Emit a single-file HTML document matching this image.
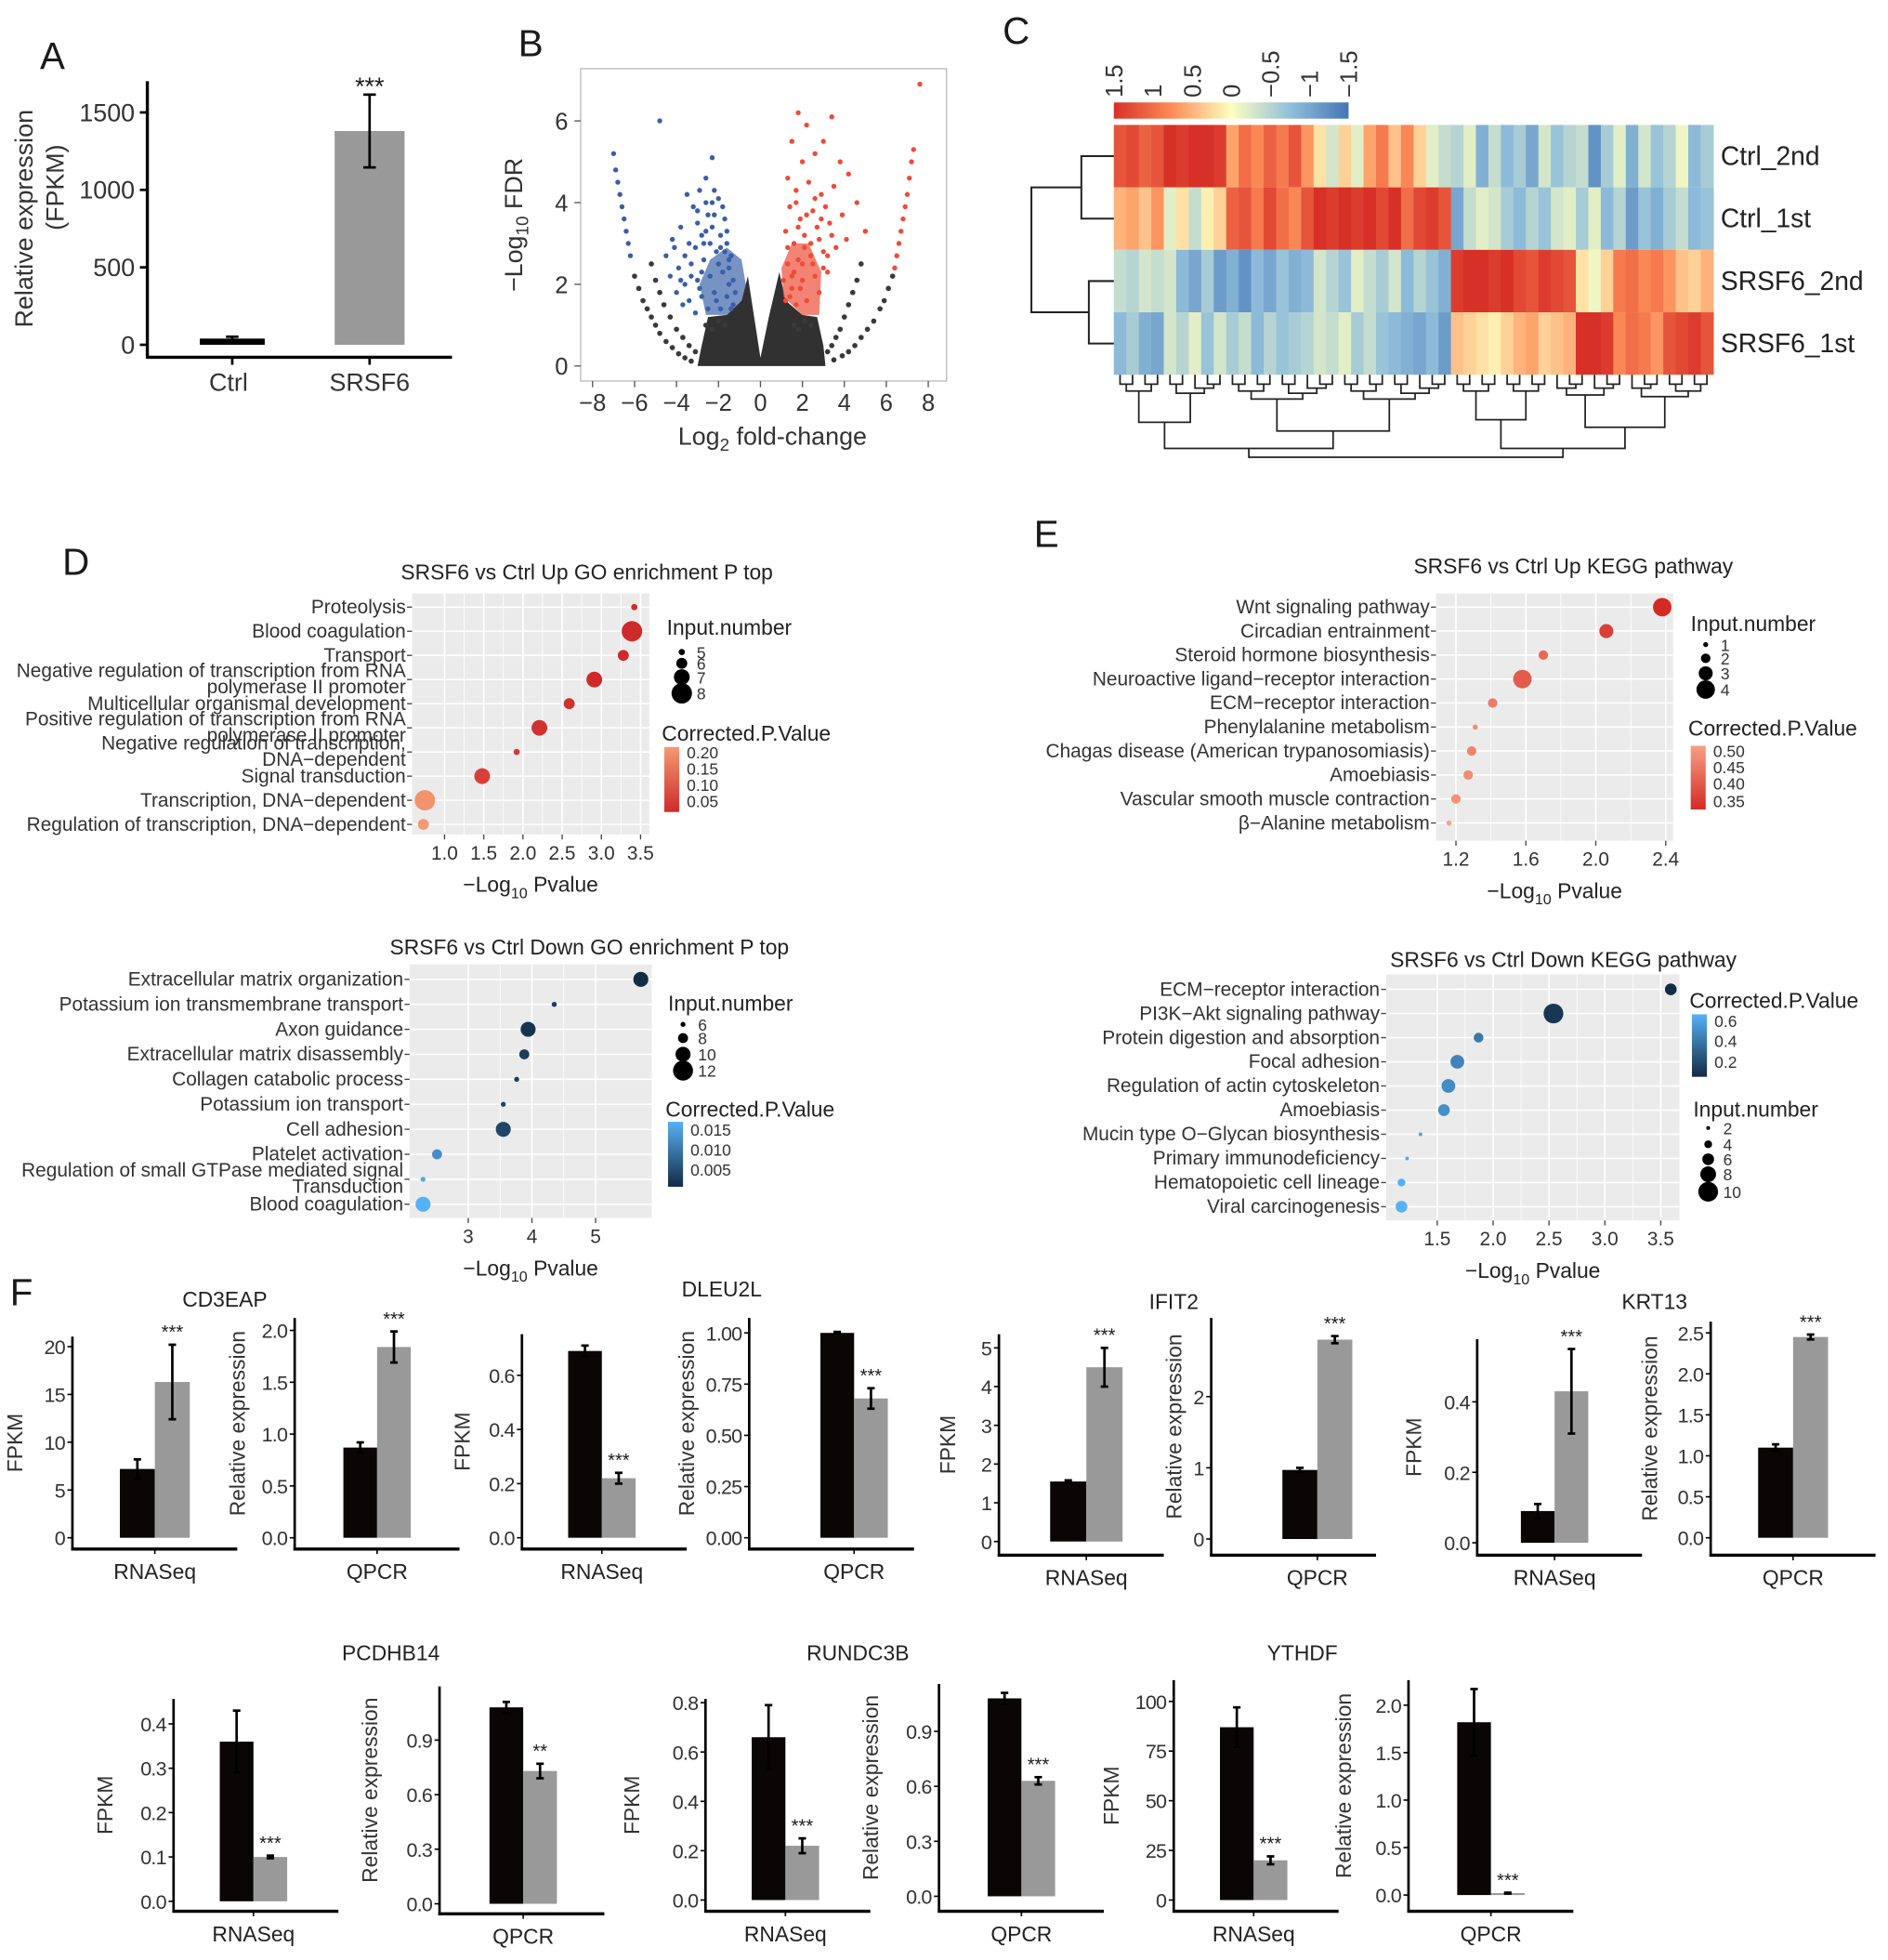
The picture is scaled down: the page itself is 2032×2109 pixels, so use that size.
<!DOCTYPE html>
<html><head><meta charset="utf-8"><style>
html,body{margin:0;padding:0;background:#fff;}
svg{display:block;font-family:"Liberation Sans",Arial,sans-serif;}
</style></head><body>
<svg id="fig" width="2032" height="2109" viewBox="0 0 1512 1569" preserveAspectRatio="none" xmlns="http://www.w3.org/2000/svg"></svg>
<script>
// ---------- Panel A data ----------
const aCats = ['Ctrl','SRSF6'];
const aVals = [40, 1380];
const aErrs = [12, 235];
const aTicks = [0, 500, 1000, 1500];
// ---------- Panel B data (volcano) ----------
const volBlueX = [-7,-6.9,-6.8,-6.7,-6.6,-6.5,-6.4,-6.3,-6.2,-4.8,-2.3,-3.5,-3.2,-2.9,-2.6,-2.2,-2.0,-1.8,-2.5,-3.0,-3.8,-4.2,-3.4,-2.8,-2.3,-1.9,-1.6,-1.4,-2.1,-2.7,-3.3,-3.9,-4.3,-3.6,-3.0,-2.4,-1.8,-1.3,-1.2,-1.6,-2.2,-2.8,-3.4,-2.5,-1.9,-1.4,-3.1,-3.7,-4.0,-2.6,-1.7,-1.5,-4.5,-3.1,-2.4,-2.0,-1.5,-3.6,-4.1,-2.9,-2.1,-1.7,-3.3,-2.6,-1.9,-1.3,-2.3,-3.0,-3.8,-1.6,-2.7,-2.2,-1.5,-2.8];
const volBlueY = [5.2,4.8,4.5,4.2,3.9,3.6,3.3,3.0,2.7,6.0,5.1,4.2,3.9,4.3,4.0,4.3,4.1,3.9,3.7,3.5,3.4,3.1,3.0,3.2,3.4,3.2,3.0,2.7,2.8,2.6,2.5,2.4,2.2,2.0,2.1,2.2,2.3,2.1,1.8,1.7,1.8,1.7,1.6,1.4,1.4,1.4,1.3,1.5,1.8,4.6,3.6,2.4,2.7,2.9,3.0,2.5,2.0,2.7,2.9,1.9,1.6,2.8,2.2,3.3,2.9,1.5,4.0,3.8,2.1,3.3,3.0,3.7,2.6,2.3];
const volRedX = [7.6,1.8,2.2,3.4,3.0,2.6,1.5,2.0,3.8,4.2,1.3,1.7,2.3,2.9,3.5,3.1,2.5,1.9,1.4,1.2,1.6,2.1,2.7,3.3,3.9,4.1,3.6,3.0,2.4,1.8,1.3,1.1,1.5,2.0,2.6,3.2,2.2,1.7,1.2,2.8,7.3,7.2,7.1,7.0,6.9,6.8,6.7,6.6,6.5,6.4,4.6,5.0,1.6,2.0,2.4,2.8,3.2,1.4,1.9,2.5,3.0,1.3,1.8,2.2,2.6,3.4,1.5,2.1,2.9,1.7];
const volRedY = [6.9,6.2,5.9,6.1,5.5,5.2,5.5,5.0,5.0,4.7,4.6,4.3,4.5,4.2,4.4,3.9,3.8,3.6,3.9,3.3,3.0,3.2,3.4,3.5,3.7,3.1,2.9,2.8,2.7,2.6,2.5,2.1,1.9,2.1,2.2,2.3,1.6,1.5,1.6,1.8,5.3,5.0,4.6,4.2,3.9,3.6,3.3,3.0,2.7,2.4,4.0,3.3,2.3,2.5,3.0,3.1,2.7,1.7,1.9,2.5,2.4,2.9,3.4,3.7,4.1,3.2,2.2,2.9,3.6,4.0];
const volNsX = [-6.0,-5.8,-5.6,-5.4,-5.2,-5.0,-4.8,-4.5,-4.2,-3.9,-3.6,-3.3,6.3,6.1,5.9,5.7,5.4,5.1,4.8,4.5,4.2,3.9,3.5,-5.2,-5.0,-4.8,-4.6,-4.3,-4.0,-3.7,-3.4,-3.1,4.8,4.6,4.4,4.2,4.0,3.8,3.6,3.4,3.2,-2.6,-2.3,-2.0,-1.7,2.4,2.1,1.8,1.6];
const volNsY = [2.2,1.9,1.6,1.4,1.2,1.0,0.8,0.6,0.45,0.3,0.2,0.12,2.2,1.9,1.6,1.4,1.1,0.9,0.7,0.5,0.35,0.25,0.15,2.5,2.1,1.8,1.5,1.2,0.9,0.7,0.5,0.35,2.5,2.1,1.8,1.5,1.2,0.9,0.7,0.5,0.35,1.0,0.9,1.1,1.0,1.0,1.1,0.9,1.0];
const volCoreX = [-3.0,-2.8,-2.5,-1.6,-0.9,-0.6,-0.3,0,0.4,0.9,1.2,2.0,2.7,3.0,3.1];
const volCoreY = [0,0.5,1.2,1.25,1.6,2.2,1.2,0.2,1.2,2.3,1.6,1.25,1.2,0.5,0];
const volBlueCloudX = [-2.6,-2.9,-2.4,-1.6,-0.9,-0.7,-0.9,-1.6];
const volBlueCloudY = [1.25,2.0,2.6,2.9,2.6,2.0,1.6,1.25];
const volRedCloudX = [1.1,1.0,1.5,2.3,2.9,2.8,2.0];
const volRedCloudY = [1.7,2.4,3.0,3.0,2.3,1.25,1.25];
const volXTicks = [-8,-6,-4,-2,0,2,4,6,8];
const volYTicks = [0,2,4,6];
// ---------- Panel C data (heatmap) ----------
const hmRows = ['Ctrl_2nd','Ctrl_1st','SRSF6_2nd','SRSF6_1st'];
const hmCtrl2 = [1.2,1.3,1.1,1.2, 1.5,1.4,1.5,1.5,1.4, 0.6,1.0,0.8,1.1,0.9,1.2,0.7, 0.2,-0.3,0.3,-0.2,0.6,0.9,0.4,0.8,0.3,-0.2,-0.4, -0.5,-0.2,-0.9,-0.4,-0.8,-0.6,-1.0,-0.3,-0.7,-0.5, -0.4,-1.2,-0.6,-0.2,-0.9,-0.3,-0.7,-0.5,-0.1,-0.8,-0.6];
const hmCtrl1 = [0.5,0.6,0.4,0.7, -0.2,0.2,-0.4,0.1,0.3, 1.1,1.2,0.9,1.3,1.0,0.8,1.2, 1.5,1.4,1.5,1.4,1.5,1.3,1.5,1.0,1.3,1.4,1.2, -1.0,-0.4,-0.2,-0.3,-0.6,-0.8,-0.5,-0.7,-0.3,-0.2, -0.6,-0.2,-0.8,-0.5,-1.1,-0.7,-0.9,-0.6,-0.4,-0.8,-0.7];
const hmS2 = [-0.4,-0.5,-0.3,-0.4, -0.3,-0.8,-1.0,-0.6,-1.1, -0.9,-1.2,-0.8,-1.0,-0.7,-0.9,-0.8, -0.3,-0.5,-0.7,-0.2,-0.4,-0.6,-0.3,-0.8,-0.5,-0.7,-0.9, 1.4,1.5,1.5,1.4,1.5,1.3,1.2,1.4,1.3,1.2, 0.2,-0.1,0.3,0.9,1.0,0.8,0.9,0.7,0.4,0.3,0.5];
const hmS1 = [-0.8,-0.6,-0.9,-1.0, -0.3,-0.5,-0.2,-0.7,-0.3, -0.6,-0.4,-0.8,-0.5,-0.7,-0.6,-0.5, -0.3,-0.4,-0.2,-0.6,-0.4,-0.7,-0.8,-0.9,-1.0,-0.8,-1.1, 0.4,0.3,0.2,0.1,0.3,0.5,0.6,0.3,0.4,0.5, 1.5,1.5,1.4,0.8,1.0,0.9,0.7,1.2,1.3,1.4,1.2];
// ---------- Panel D/E data (bubble charts) ----------
const upGoCats = ['Proteolysis','Blood coagulation','Transport','Negative regulation of transcription from RNA\npolymerase II promoter','Multicellular organismal development','Positive regulation of transcription from RNA\npolymerase II promoter','Negative regulation of transcription,\nDNA\u2212dependent','Signal transduction','Transcription, DNA\u2212dependent','Regulation of transcription, DNA\u2212dependent'];
const upGoX = [3.42,3.39,3.28,2.91,2.59,2.21,1.92,1.48,0.75,0.73];
const upGoN = [5,8,6,7,6,7,5,7,8,6];
const upGoP = [0.05,0.05,0.05,0.05,0.06,0.06,0.07,0.08,0.19,0.2];
const upGoTicks = [1.0,1.5,2.0,2.5,3.0,3.5];
const dnGoCats = ['Extracellular matrix organization','Potassium ion transmembrane transport','Axon guidance','Extracellular matrix disassembly','Collagen catabolic process','Potassium ion transport','Cell adhesion','Platelet activation','Regulation of small GTPase mediated signal\nTransduction','Blood coagulation'];
const dnGoX = [5.71,4.35,3.94,3.88,3.76,3.55,3.55,2.51,2.29,2.29];
const dnGoN = [10,6,10,8,6,6,10,8,6,10];
const dnGoP = [0.001,0.003,0.002,0.003,0.003,0.004,0.004,0.012,0.015,0.016];
const dnGoTicks = [3,4,5];
const upKeggCats = ['Wnt signaling pathway','Circadian entrainment','Steroid hormone biosynthesis','Neuroactive ligand\u2212receptor interaction','ECM\u2212receptor interaction','Phenylalanine metabolism','Chagas disease (American trypanosomiasis)','Amoebiasis','Vascular smooth muscle contraction','\u03b2\u2212Alanine metabolism'];
const upKeggX = [2.38,2.06,1.70,1.58,1.41,1.31,1.29,1.27,1.20,1.16];
const upKeggN = [4,3,2,4,2,1,2,2,2,1];
const upKeggP = [0.33,0.36,0.42,0.40,0.45,0.47,0.46,0.47,0.48,0.5];
const upKeggTicks = [1.2,1.6,2.0,2.4];
const dnKeggCats = ['ECM\u2212receptor interaction','PI3K\u2212Akt signaling pathway','Protein digestion and absorption','Focal adhesion','Regulation of actin cytoskeleton','Amoebiasis','Mucin type O\u2212Glycan biosynthesis','Primary immunodeficiency','Hematopoietic cell lineage','Viral carcinogenesis'];
const dnKeggX = [3.59,2.54,1.87,1.68,1.60,1.56,1.35,1.23,1.18,1.18];
const dnKeggN = [6,10,5,7,7,6,2,2,4,6];
const dnKeggP = [0.05,0.1,0.4,0.45,0.48,0.5,0.6,0.62,0.64,0.65];
const dnKeggTicks = [1.5,2.0,2.5,3.0,3.5];
// ---------- Panel F data ----------
const fGenes = ['CD3EAP','CD3EAP','DLEU2L','DLEU2L','IFIT2','IFIT2','KRT13','KRT13','PCDHB14','PCDHB14','RUNDC3B','RUNDC3B','YTHDF','YTHDF'];
const fAssay = ['RNASeq','QPCR','RNASeq','QPCR','RNASeq','QPCR','RNASeq','QPCR','RNASeq','QPCR','RNASeq','QPCR','RNASeq','QPCR'];
const fCtrl = [7.2,0.87,0.69,1.0,1.55,0.97,0.09,1.1,0.36,1.08,0.66,1.08,87,1.82];
const fCtrlErr = [1.0,0.05,0.02,0.005,0.03,0.03,0.02,0.04,0.07,0.03,0.13,0.03,10,0.35];
const fSrsf = [16.3,1.84,0.22,0.68,4.5,2.8,0.43,2.45,0.1,0.73,0.22,0.63,20,0.02];
const fSrsfErr = [3.9,0.15,0.02,0.05,0.5,0.05,0.12,0.03,0.003,0.04,0.03,0.02,2,0.005];
const fSig = ['***','***','***','***','***','***','***','***','***','**','***','***','***','***'];
const fTicks = [[0,5,10,15,20],[0,0.5,1,1.5,2],[0,0.2,0.4,0.6],[0,0.25,0.5,0.75,1],[0,1,2,3,4,5],[0,1,2],[0,0.2,0.4],[0,0.5,1,1.5,2,2.5],[0,0.1,0.2,0.3,0.4],[0,0.3,0.6,0.9],[0,0.2,0.4,0.6,0.8],[0,0.3,0.6,0.9],[0,25,50,75,100],[0,0.5,1,1.5,2]];
const fTickLabels = [['0','5','10','15','20'],['0.0','0.5','1.0','1.5','2.0'],['0.0','0.2','0.4','0.6'],['0.00','0.25','0.50','0.75','1.00'],['0','1','2','3','4','5'],['0','1','2'],['0.0','0.2','0.4'],['0.0','0.5','1.0','1.5','2.0','2.5'],['0.0','0.1','0.2','0.3','0.4'],['0.0','0.3','0.6','0.9'],['0.0','0.2','0.4','0.6','0.8'],['0.0','0.3','0.6','0.9'],['0','25','50','75','100'],['0.0','0.5','1.0','1.5','2.0']];

const NS='http://www.w3.org/2000/svg';
const svg=document.getElementById('fig');
function mk(tag,attrs,parent){const e=document.createElementNS(NS,tag);for(const k in attrs)e.setAttribute(k,attrs[k]);(parent||svg).appendChild(e);return e;}
function txt(x,y,s,size,anchor,name,parent,extra){const e=mk('text',Object.assign({x:x,y:y,'font-size':size,'text-anchor':anchor||'start',fill:'#1a1a1a'},extra||{}),parent);e.textContent=s;


return e;}
function line(x1,y1,x2,y2,w,col,name,parent){const e=mk('line',{x1:x1,y1:y1,x2:x2,y2:y2,stroke:col||'#000','stroke-width':w||1},parent);


return e;}
function hex(h){return [parseInt(h.slice(1,3),16),parseInt(h.slice(3,5),16),parseInt(h.slice(5,7),16)];}
function lerpCol(a,b,t){t=Math.max(0,Math.min(1,t));const A=hex(a),B=hex(b);return 'rgb('+A.map((v,i)=>Math.round(v+(B[i]-v)*t)).join(',')+')';}
function grp(name){const g=mk('g',{});


return g;}

[['A',32,55],['B',415,45],['C',803,35],['D',50,460],['E',828,438],['F',8,1045]].forEach(p=>{txt(p[1],p[2],p[0],30,'start','panel-label-'+p[0].toLowerCase());});

// ================= Panel A =================
(function(){
const g=grp('panel-a-bar-chart');
const zeroY=276, ppu=62/500, ax=118;
const y=v=>zeroY-v*ppu;
line(ax,65,ax,287,2.5,'#000','y-axis',g);
line(ax-1,286,362,286,2.5,'#000','x-axis',g);
aTicks.forEach(t=>{line(ax-6,y(t),ax,y(t),2,'#000','y-tick',g);txt(ax-10,y(t)+7,String(t),20,'end','y-tick-label',g,{fill:'#333'});});
const cx=[186,296], bw=[52,56], cols=['#000','#999'];
aCats.forEach((c,i)=>{
 const r=mk('rect',{x:cx[i]-bw[i]/2,y:y(aVals[i]),width:bw[i],height:zeroY-y(aVals[i]),fill:cols[i]},g);
 
 
 line(cx[i],y(aVals[i]+aErrs[i]),cx[i],y(aVals[i]-aErrs[i]),2,'#000','error-bar',g);
 line(cx[i]-5,y(aVals[i]+aErrs[i]),cx[i]+5,y(aVals[i]+aErrs[i]),2,'#000','error-cap',g);
 line(cx[i]-5,y(aVals[i]-aErrs[i]),cx[i]+5,y(aVals[i]-aErrs[i]),2,'#000','error-cap',g);
 line(cx[i],286,cx[i],292,2,'#000','x-tick',g);
 txt(cx[i]-(i?0:3),313,c,20,'middle','x-tick-label',g,{fill:'#333'});
});
txt(cx[1],76,'***',20,'middle','significance-stars',g);
txt(26,175,'Relative expression',20,'middle','y-axis-title',g,{transform:'rotate(-90 26 175)',fill:'#333'});
txt(51,150,'(FPKM)',20,'middle','y-axis-title-unit',g,{transform:'rotate(-90 51 150)',fill:'#333'});
})();

// ================= Panel B =================
(function(){
const g=grp('panel-b-volcano-plot');
const X=v=>609+v*16.8, Y=v=>293-v*32.7;
const bx=mk('rect',{x:465,y:55,width:293,height:250,fill:'#fff',stroke:'#bbb','stroke-width':1},g);


volXTicks.forEach(t=>{line(X(t),305,X(t),310,1,'#555','x-tick',g);txt(X(t),329,(t<0?'\u2212':'')+Math.abs(t),19,'middle','x-tick-label',g,{fill:'#333'});});
volYTicks.forEach(t=>{line(460,Y(t),465,Y(t),1,'#555','y-tick',g);txt(455,Y(t)+7,String(t),19,'end','y-tick-label',g,{fill:'#333'});});
function poly(xs,ys,col,op,name){const e=mk('polygon',{points:xs.map((v,i)=>X(v)+','+Y(ys[i])).join(' '),fill:col,'fill-opacity':op},g);
 
 }
poly(volCoreX,volCoreY,'#151515',0.88,'dense-nonsignificant-core');
poly(volBlueCloudX,volBlueCloudY,'#4a6fb0',0.75,'dense-down-regulated-cloud');
poly(volRedCloudX,volRedCloudY,'#ef5a45',0.75,'dense-up-regulated-cloud');
function pts(xs,ys,col,name,r){xs.forEach((v,i)=>{const c=mk('circle',{cx:X(v),cy:Y(ys[i]),r:r,fill:col},g);
 
 });}
pts(volNsX,volNsY,'#3a3a3a','point-not-significant',2.1);
pts(volBlueX,volBlueY,'#3a5fa8','point-down-regulated',2.0);
pts(volRedX,volRedY,'#ee4b38','point-up-regulated',2.0);
const t=txt(543,356,'Log',20,'start','x-axis-title',g,{fill:'#333'});
const s=mk('tspan',{'font-size':14,dy:5},t);s.textContent='2';
const s2=mk('tspan',{dy:-5},t);s2.textContent=' fold-change';
const ty=txt(418,180,'\u2212Log',20,'middle','y-axis-title',g,{transform:'rotate(-90 418 180)',fill:'#333'});
const s3=mk('tspan',{'font-size':14,dy:5},ty);s3.textContent='10';
const s4=mk('tspan',{dy:-5},ty);s4.textContent=' FDR';
})();

// ================= Panel C =================
(function(){
const g=grp('panel-c-heatmap');
const rowsData=[hmCtrl2,hmCtrl1,hmS2,hmS1];
function hm(v){const st=[[-1.5,'#4575b4'],[-0.75,'#91bfdb'],[0,'#ffffbf'],[0.75,'#fc8d59'],[1.5,'#d73027']];
 for(let i=0;i<st.length-1;i++){if(v<=st[i+1][0])return lerpCol(st[i][1],st[i+1][1],(v-st[i][0])/(st[i+1][0]-st[i][0]));}return st[4][1];}
const x0=892, x1=1372, y0=100, rh=50;
const cw=(x1-x0)/hmCtrl2.length;
rowsData.forEach((row,ri)=>{row.forEach((v,ci)=>{const r=mk('rect',{x:x0+ci*cw,y:y0+ri*rh,width:cw+0.5,height:rh,fill:hm(v)},g);
 
 });
 txt(1378,y0+ri*rh+32,hmRows[ri],21,'start','row-label',g,{fill:'#222'});});
const defs=mk('defs',{},g);const lg=mk('linearGradient',{id:'hmg',x1:0,x2:1,y1:0,y2:0},defs);
[['0','#d73027'],['0.25','#fc8d59'],['0.5','#ffffbf'],['0.75','#91bfdb'],['1','#4575b4']].forEach(s=>mk('stop',{offset:s[0],'stop-color':s[1]},lg));
const cb=mk('rect',{x:892,y:82,width:188,height:13,fill:'url(#hmg)'},g);


['1.5','1','0.5','0','\u22120.5','\u22121','\u22121.5'].forEach((s,i)=>{const x=899+i*31.3;txt(x,78,s,19,'start','color-scale-label',g,{transform:'rotate(-90 '+x+' 78)',fill:'#333'});});
const dp='M892,125H866V175H892 M892,225H872V275H892 M866,150H826V250H872';
const d1=mk('path',{d:dp,fill:'none',stroke:'#222','stroke-width':1.5},g);


let p='';
const splits={'0-48':[27,366],'0-27':[9,359],'27-48':[35,359],'9-27':[18,345],'35-48':[41,342],'0-9':[4,338],'27-35':[31,336]};
function node(a,b){
 if(b-a===1){return {x:x0+(a+0.5)*cw,h:300};}
 const key=a+'-'+b;let m=Math.floor((a+b)/2),h=302+5.5*Math.log2(b-a);
 if(splits[key]){m=splits[key][0];h=splits[key][1];}
 const L=node(a,m),R=node(m,b);
 p+='M'+L.x+','+L.h+'V'+h+'H'+R.x+'V'+R.h+' ';
 return {x:(L.x+R.x)/2,h:h};
}
node(0,hmCtrl2.length);
const d2=mk('path',{d:p,fill:'none',stroke:'#222','stroke-width':1.3},g);


})();

// ================= Bubble charts =================
function bubble(name,cats,xv,nv,pv,ticks,tickLbl,L,rFn,colFn){
 const g=grp(name);
 const X=v=>L.xPx+(v-L.xVal)*L.ppu;
 const bg=mk('rect',{x:L.x0,y:L.y0,width:L.x1-L.x0,height:L.y1-L.y0,fill:'#ebebeb'},g);
 
 
 ticks.forEach((t,i)=>{line(X(t),L.y0,X(t),L.y1,1.2,'#fff','x-gridline',g);
  if(i<ticks.length-1)line((X(t)+X(ticks[i+1]))/2,L.y0,(X(t)+X(ticks[i+1]))/2,L.y1,0.6,'#fff','x-minor-gridline',g);
  line(X(t),L.y1,X(t),L.y1+4,1,'#444','x-tick',g);
  txt(X(t),L.y1+20,tickLbl[i],15.5,'middle','x-tick-label',g,{fill:'#333'});});
 cats.forEach((c,i)=>{const y=L.ry+i*L.rs;line(L.x0,y,L.x1,y,1.2,'#fff','y-gridline',g);line(L.x0-4,y,L.x0,y,1,'#444','y-tick',g);
  const parts=c.split('\n');
  parts.forEach((s,k)=>{txt(L.x0-5,y+5+(parts.length>1?(k?6:-7):0),s,15.5,'end','category-label',g,{fill:'#333'});});});
 cats.forEach((c,i)=>{const y=L.ry+i*L.rs;const ci=mk('circle',{cx:X(xv[i]),cy:y,r:rFn(nv[i]),fill:colFn(pv[i])},g);
  
  });
 txt(L.tx,L.ty,L.title,17,'middle','chart-title',g,{fill:'#222'});
 const xt=txt((L.x0+L.x1)/2,L.y1+46,'\u2212Log',17,'middle','x-axis-title',g,{fill:'#222'});
 const s=mk('tspan',{'font-size':12,dy:5},xt);s.textContent='10';
 const s2=mk('tspan',{dy:-5},xt);s2.textContent=' Pvalue';
 return g;
}
function legendSize(g,x,y,labels,rs,ys){txt(x,y,'Input.number',17,'start','size-legend-title',g,{fill:'#222'});
 labels.forEach((l,i)=>{const c=mk('circle',{cx:x+12,cy:ys[i],r:rs[i],fill:'#000'},g);
  
  
  txt(x+24,ys[i]+5,l,13,'start','size-legend-label',g,{fill:'#333'});});}
function legendCol(g,x,y,id,cTop,cBot,labels,ys,bt,bb){txt(x,y,'Corrected.P.Value',17,'start','color-legend-title',g,{fill:'#222'});
 const defs=mk('defs',{},g);const lg=mk('linearGradient',{id:id,x1:0,x2:0,y1:0,y2:1},defs);
 mk('stop',{offset:0,'stop-color':cTop},lg);mk('stop',{offset:1,'stop-color':cBot},lg);
 const r=mk('rect',{x:x+2,y:bt,width:12,height:bb-bt,fill:'url(#'+id+')'},g);
 
 
 labels.forEach((l,i)=>{txt(x+20,ys[i]+5,l,13,'start','color-legend-label',g,{fill:'#333'});});}

(function(){
const col=p=>lerpCol('#cf2a2a','#f39a72',(p-0.05)/0.15);
const g=bubble('panel-d-up-go-bubble-chart',upGoCats,upGoX,upGoN,upGoP,upGoTicks,['1.0','1.5','2.0','2.5','3.0','3.5'],
 {x0:330,x1:520,y0:475,y1:668,xVal:1.0,xPx:356,ppu:62.8,ry:486,rs:19.33,tx:470,ty:464,title:'SRSF6 vs Ctrl Up GO enrichment P top'},n=>2.5+(n-5)*1.9,col);
legendSize(g,534,508,['5','6','7','8'],[2.5,4.4,6.3,8.2],[522,531,542,555]);
legendCol(g,530,593,'gUpGo',col(0.2),col(0.05),['0.20','0.15','0.10','0.05'],[602,615,628,641],598,650);
})();
(function(){
const col=p=>lerpCol('#132b43','#56b1f7',(p-0.001)/0.015);
const g=bubble('panel-d-down-go-bubble-chart',dnGoCats,dnGoX,dnGoN,dnGoP,dnGoTicks,['3','4','5'],
 {x0:328,x1:522,y0:772,y1:975,xVal:3,xPx:375,ppu:51,ry:784,rs:20,tx:472,ty:764,title:'SRSF6 vs Ctrl Down GO enrichment P top'},n=>2+(n-6)*1.0,col);
legendSize(g,535,809,['6','8','10','12'],[2,4,6,8],[820,831,844,857]);
legendCol(g,533,894,'gDnGo',col(0.016),col(0.001),['0.015','0.010','0.005'],[904,920,936],898,950);
})();
(function(){
const col=p=>lerpCol('#d42a24','#f7a084',(p-0.33)/0.17);
const g=bubble('panel-e-up-kegg-bubble-chart',upKeggCats,upKeggX,upKeggN,upKeggP,upKeggTicks,['1.2','1.6','2.0','2.4'],
 {x0:1150,x1:1340,y0:475,y1:673,xVal:1.2,xPx:1166,ppu:140,ry:486,rs:19.2,tx:1260,ty:459,title:'SRSF6 vs Ctrl Up KEGG pathway'},n=>2+(n-1)*1.8,col);
legendSize(g,1354,505,['1','2','3','4'],[2,3.8,5.6,7.4],[516,527,539,552]);
legendCol(g,1352,589,'gUpKegg',col(0.5),col(0.33),['0.50','0.45','0.40','0.35'],[601,614,627,641],597,648);
})();
(function(){
const col=p=>lerpCol('#132b43','#56b1f7',(p-0.05)/0.6);
const g=bubble('panel-e-down-kegg-bubble-chart',dnKeggCats,dnKeggX,dnKeggN,dnKeggP,dnKeggTicks,['1.5','2.0','2.5','3.0','3.5'],
 {x0:1110,x1:1345,y0:780,y1:977,xVal:1.5,xPx:1151,ppu:89.5,ry:792,rs:19.33,tx:1252,ty:774,title:'SRSF6 vs Ctrl Down KEGG pathway'},n=>1.5+(n-2)*0.8,col);
legendCol(g,1353,807,'gDnKegg',col(0.65),col(0.05),['0.6','0.4','0.2'],[817,833,850],812,862);
legendSize(g,1356,894,['2','4','6','8','10'],[1.5,3.1,4.7,6.3,7.9],[903,916,928,940,954]);
})();

// ================= Panel F =================
const fLayout=[[58,1070,1240,1231,7.65,96,28,18],[236,1055,1240,1231,83,275,27,196],[418,1068,1240,1231,216.7,455,27,376],[600,1055,1240,1231,164,657,27,556],
[800,1068,1245,1234,31,841,29,765],[970,1055,1245,1232,57,1027,28,946],[1183,1072,1245,1235,282,1218,27,1138],[1370,1058,1245,1231,65.6,1408,28,1327],
[139,1360,1530,1522,355,176,27,90],[352,1350,1532,1524,145.6,392,27,302],[565,1360,1530,1521,197.5,602,27,512],[752,1348,1530,1518,146.7,791,27,703],
[940,1345,1530,1521,1.59,977,27,896],[1128,1345,1530,1517,76,1167,27,1082]];
const fTitles=[['CD3EAP',180,1046],['DLEU2L',578,1038],['IFIT2',940,1048],['KRT13',1325,1048],['PCDHB14',313,1329],['RUNDC3B',687,1329],['YTHDF',1043,1329]];
fTitles.forEach(t=>txt(t[1],t[2],t[0],17,'middle','gene-title',null,{fill:'#222'}));
fGenes.forEach((gene,i)=>{
 const L=fLayout[i];const g=grp('bar-chart-'+gene.toLowerCase()+'-'+fAssay[i].toLowerCase());
 const Y=v=>L[3]-v*L[4];
 line(L[0],L[1],L[0],L[2]+1,2,'#000','y-axis',g);
 line(L[0]-1,L[2],L[0]+132,L[2],2.5,'#000','x-axis',g);
 fTicks[i].forEach((t,k)=>{line(L[0]-4,Y(t),L[0],Y(t),1.2,'#000','y-tick',g);txt(L[0]-6,Y(t)+6,fTickLabels[i][k],16,'end','y-tick-label',g,{fill:'#333','letter-spacing':'-0.6'});});
 const bars=[[fCtrl[i],fCtrlErr[i],'#0a0606',L[5]],[fSrsf[i],fSrsfErr[i],'#999',L[5]+L[6]]];
 bars.forEach((b,k)=>{const r=mk('rect',{x:b[3],y:Y(b[0]),width:L[6],height:L[3]-Y(b[0]),fill:b[2]},g);
  
  
  const cx=b[3]+L[6]/2;
  line(cx,Y(b[0]+b[1]),cx,Y(b[0]-b[1]),2,'#000','error-bar',g);
  line(cx-3,Y(b[0]+b[1]),cx+3,Y(b[0]+b[1]),2,'#000','error-cap',g);
  line(cx-3,Y(b[0]-b[1]),cx+3,Y(b[0]-b[1]),2,'#000','error-cap',g);});
 const gx=L[5]+L[6]*1.5;
 txt(gx,Y(fSrsf[i]+fSrsfErr[i])-5,fSig[i],15,'middle','significance-stars',g);
 const mid=L[5]+L[6];
 line(mid,L[2],mid,L[2]+4,1.2,'#000','x-tick',g);
 txt(mid,L[2]+24,fAssay[i],17,'middle','x-tick-label',g,{fill:'#222'});
 const yc=(L[1]+L[2])/2+(fAssay[i]==='QPCR'?-8:0);
 txt(L[7],yc,fAssay[i]==='QPCR'?'Relative expression':'FPKM',17,'middle','y-axis-title',g,{transform:'rotate(-90 '+L[7]+' '+yc+')',fill:'#333'});
});
</script>
</body></html>
